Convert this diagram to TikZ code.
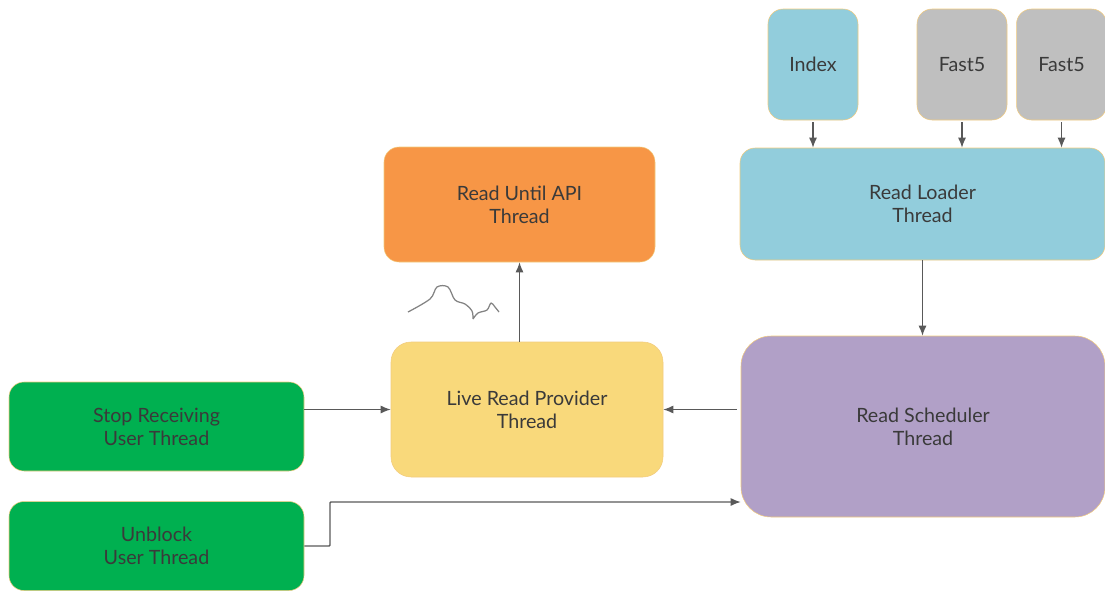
\documentclass[tikz,border=0pt]{standalone}
\usepackage{fontspec}
\setmainfont{Lato}
\usepackage{tikz}
\usetikzlibrary{arrows.meta, positioning, calc}
\definecolor{edge}{HTML}{F2CB7E}
\definecolor{txt}{HTML}{3A3A3A}
\definecolor{wire}{HTML}{595959}
\definecolor{bgapi}{HTML}{F79646}
\definecolor{bgload}{HTML}{92CDDC}
\definecolor{bgfile}{HTML}{BFBFBF}
\definecolor{bgprov}{HTML}{F9D97B}
\definecolor{bgsched}{HTML}{B1A0C7}
\definecolor{bguser}{HTML}{00B050}
\tikzset{
  thr/.style     = {draw=edge, line width=0.3pt, rounded corners=3mm,
                    font=\fontsize{11.2}{13.2}\selectfont, text=txt,
                    align=center, inner sep=0pt},
  thrapi/.style  = {thr, fill=bgapi, minimum width=54.2mm, minimum height=23mm},
  thrload/.style = {thr, fill=bgload, minimum width=73mm, minimum height=22.4mm},
  thrprov/.style = {thr, fill=bgprov, rounded corners=4mm,
                    minimum width=54.4mm, minimum height=27mm},
  thrsched/.style= {thr, fill=bgsched, rounded corners=6mm,
                    minimum width=72.8mm, minimum height=36.2mm},
  thruser/.style = {thr, fill=bguser, minimum width=59mm, minimum height=17.8mm},
  infile/.style  = {thr, minimum width=18mm, minimum height=22.2mm},
  flow/.style    = {-{Latex[length=2mm, width=1.6mm]}, wire, line width=0.26mm},
}

\begin{document}
\begin{tikzpicture}
    \useasboundingbox (0,0) rectangle (22.1,-11.8);

    \node[thruser]  (stop)    at (3.13,-8.53)  {Stop Receiving\\User Thread};
    \node[thruser,  below=6mm of stop]          (unblock) {Unblock\\User Thread};
    \node[thrprov]  (prov)    at (10.54,-8.19) {Live Read Provider\\Thread};
    \node[thrapi]   (api)     at (10.39,-4.09) {Read Until API\\Thread};
    \node[thrsched] (sched)   at (18.46,-8.53) {Read Scheduler\\Thread};
    \node[thrload]  (loader)  at (18.45,-4.08) {Read Loader\\Thread};
    \node[infile, fill=bgload] (index) at (16.26,-1.29) {Index};
    \node[infile, fill=bgfile] (fasta) at (19.24,-1.29) {Fast5};
    \node[infile, fill=bgfile, right=1.8mm of fasta] (fastb) {Fast5};

    % inputs into the loader
    \foreach \src in {index, fasta, fastb}
      \draw[flow, shorten <=0.4mm] (\src.south) -- (\src.south |- loader.north);
    \draw[flow] (loader.south) -- (loader.south |- sched.north);

    % scheduler and user threads feed the provider
    \draw[flow, shorten <=0.8mm] (sched.west |- prov.east) -- (prov.east);
    \draw[flow] (stop.east |- prov.west) -- (prov.west);
    \draw[flow] (api.south |- prov.north) -- (api.south);

    \coordinate (bend) at (6.6,-10.04);
    \draw[flow, rounded corners=0.5pt] (unblock.east) -| (bend) -- (bend -| sched.west);

    % squiggle next to the API arrow
    \draw[wire!75, line width=0.25mm, line join=round]
      plot[smooth, tension=0.55] coordinates {
        (8.16,-6.24) (8.60,-5.98) (8.74,-5.74) (8.96,-5.74)
        (9.10,-6.00) (9.30,-6.08) (9.44,-6.22) (9.46,-6.38)}
      plot[smooth, tension=0.55] coordinates {
        (9.46,-6.38) (9.56,-6.26) (9.74,-6.20) (9.82,-6.06)
        (9.90,-6.14) (9.98,-6.24)};
\end{tikzpicture}
\end{document}
